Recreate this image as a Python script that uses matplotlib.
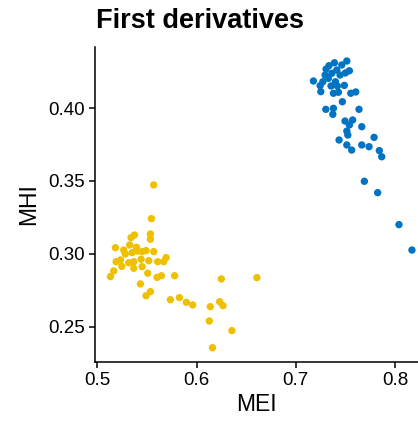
import matplotlib
matplotlib.use("Agg")
import matplotlib.pyplot as plt

plt.rcParams['font.family'] = ['Liberation Sans', 'DejaVu Sans']

# Group 1 (blue)
blue_mei = [0.7515, 0.7390, 0.7464, 0.7306, 0.7541, 0.7414, 0.7364, 0.7447, 0.7296, 0.7329,
            0.7178, 0.7273, 0.7246, 0.7356, 0.7490, 0.7253, 0.7380, 0.7430, 0.7555, 0.7605,
            0.7470, 0.7303, 0.7380, 0.7638, 0.7374, 0.7497, 0.7574, 0.7541, 0.7666, 0.7515,
            0.7525, 0.7790, 0.7437, 0.7515, 0.7666, 0.7739, 0.7564, 0.7843, 0.7867, 0.7692,
            0.7826, 0.8041, 0.8172, 0.7335, 0.7400, 0.7500, 0.7420]
blue_mhi = [0.4322, 0.4310, 0.4295, 0.4267, 0.4255, 0.4260, 0.4238, 0.4226, 0.4226, 0.4203,
            0.4185, 0.4180, 0.4153, 0.4151, 0.4155, 0.4112, 0.4101, 0.4108, 0.4101, 0.4110,
            0.4043, 0.3991, 0.3998, 0.3991, 0.3957, 0.3911, 0.3918, 0.3884, 0.3872, 0.3842,
            0.3815, 0.3799, 0.3781, 0.3747, 0.3747, 0.3735, 0.3712, 0.3708, 0.3666, 0.3498,
            0.3420, 0.3201, 0.3027, 0.4290, 0.4180, 0.4240, 0.4150]

# Group 2 (yellow)
yellow_mei = [0.5567, 0.5544, 0.5373, 0.5339, 0.5534, 0.5534, 0.5181, 0.5265, 0.5325, 0.5393,
              0.5349, 0.5450, 0.5490, 0.5567, 0.5188, 0.5232, 0.5315, 0.5366, 0.5440, 0.5517,
              0.5607, 0.5668, 0.5692, 0.5164, 0.5131, 0.5366, 0.5450, 0.5507, 0.5601, 0.5645,
              0.5778, 0.5433, 0.5534, 0.5490, 0.5735, 0.5826, 0.5896, 0.5960, 0.6138, 0.6232,
              0.6266, 0.6249, 0.6608, 0.6128, 0.6356, 0.6160, 0.5280, 0.5400, 0.5245]
yellow_mhi = [0.3473, 0.3242, 0.3130, 0.3112, 0.3137, 0.3101, 0.3043, 0.3027, 0.3062, 0.3046,
              0.3009, 0.3016, 0.3023, 0.3016, 0.2947, 0.2959, 0.2940, 0.2947, 0.2964, 0.2954,
              0.2947, 0.2947, 0.2975, 0.2884, 0.2845, 0.2902, 0.2913, 0.2868, 0.2840, 0.2851,
              0.2851, 0.2795, 0.2742, 0.2714, 0.2687, 0.2701, 0.2669, 0.2651, 0.2639, 0.2673,
              0.2646, 0.2829, 0.2838, 0.2541, 0.2475, 0.2358, 0.3000, 0.3020, 0.2915]

x_ticks = [0.5, 0.6, 0.7, 0.8]
x_ticklabels = ["0.5", "0.6", "0.7", "0.8"]
y_ticks = [0.25, 0.30, 0.35, 0.40]
y_ticklabels = ["0.25", "0.30", "0.35", "0.40"]

fig = plt.figure(figsize=(4.18, 4.22), dpi=100)
ax = fig.add_axes([95/418, 1 - 362/422, 1 - 95/418, (362 - 47)/422])

ax.scatter(yellow_mei, yellow_mhi, s=28, color="#EFC000", edgecolors="none", clip_on=True)
ax.scatter(blue_mei, blue_mhi, s=28, color="#0073C2", edgecolors="none", clip_on=True)

ax.set_xlim(0.4975, 0.8233)
ax.set_ylim(0.226, 0.4418)
ax.set_xticks(x_ticks)
ax.set_xticklabels(x_ticklabels)
ax.set_yticks(y_ticks)
ax.set_yticklabels(y_ticklabels)

for s in ["top", "right"]:
    ax.spines[s].set_visible(False)
for s in ["left", "bottom"]:
    ax.spines[s].set_linewidth(1.1)
    ax.spines[s].set_color("black")
ax.tick_params(axis="both", length=4, width=1.1, labelsize=13.5, colors="black", pad=3)

ax.set_xlabel("MEI", fontsize=16.5, labelpad=3)
ax.set_ylabel("MHI", fontsize=16.5, labelpad=6)
fig.text(96/418, 1 - 28/422, "First derivatives", fontsize=19.5, fontweight="bold",
         ha="left", va="baseline")

fig.savefig("out.png", dpi=100)
